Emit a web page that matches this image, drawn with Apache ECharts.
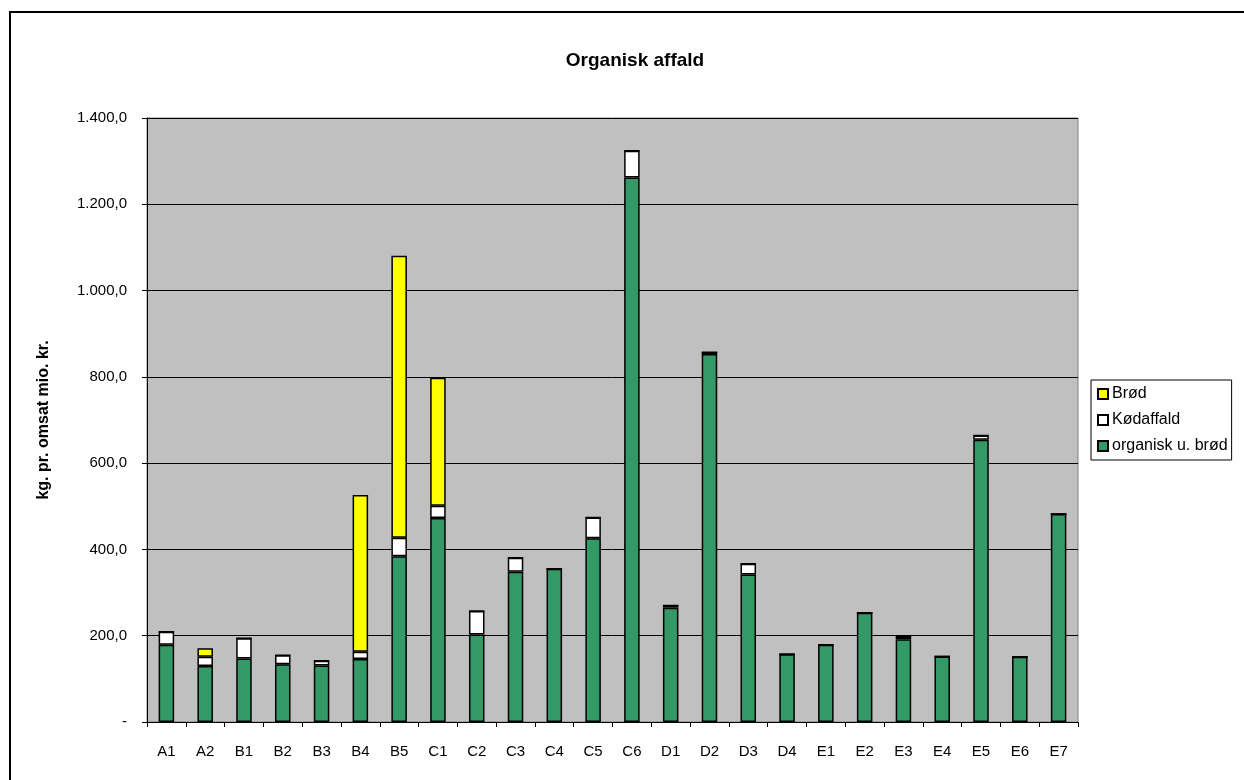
<!DOCTYPE html>
<html>
<head>
<meta charset="utf-8">
<script src="https://cdn.jsdelivr.net/npm/echarts@6/dist/echarts.min.js"></script>
<style>
  html, body { margin: 0; padding: 0; background: #fff; }
  #main { width: 1244px; height: 780px; }
</style>
</head>
<body>
<div id="main"></div>
<script>
var categories = ['A1','A2','B1','B2','B3','B4','B5','C1','C2','C3','C4','C5','C6','D1','D2','D3','D4','E1','E2','E3','E4','E5','E6','E7'];
var organiskUBrod = [179,130,147,134,131,146,384,473,203,348,355,426,1262,265,853,342,157,179,253,192,152,654,151,482];
var kodaffald = [30,21,47,21,11,17,43,28,54,33,0,48,62,5,4,25,0,0,0,6,0,10,0,0];
var brod = [0,20,0,0,0,363,654,297,0,0,0,0,0,0,0,0,0,0,0,0,0,0,0,0];
var yTicks = [0,200,400,600,800,1000,1200,1400];

var chartDom = document.getElementById('main');
var myChart = echarts.init(chartDom);
var option;

var font = "'Liberation Sans', Arial, sans-serif";

// dansk talformat: 1.400,0 og '-' for nul
function fmt(v) {
  if (v === 0) return '-';
  var s = v.toFixed(1).split('.');
  return s[0].replace(/\B(?=(\d{3})+(?!\d))/g, '.') + ',' + s[1];
}

option = {
  animation: false,
  backgroundColor: '#fff',
  textStyle: { fontFamily: font },
  title: {
    text: 'Organisk affald',
    left: 630,
    top: 46,
    textAlign: 'center',
    textStyle: { fontSize: 19, fontWeight: 'bold', color: '#000', fontFamily: font }
  },
  graphic: [{
    type: 'rect',
    shape: { x: 10, y: 12, width: 1300, height: 900 },
    style: { fill: 'none', stroke: '#000', lineWidth: 2 },
    silent: true
  }],
  legend: {
    orient: 'vertical',
    left: 1091,
    top: 380,
    data: ['Brød', 'Kødaffald', 'organisk u. brød'],
    itemWidth: 10,
    itemHeight: 10,
    itemGap: 10,
    padding: [6, 4, 6, 6],
    borderColor: '#000',
    borderWidth: 1,
    backgroundColor: '#fff',
    icon: 'rect',
    textStyle: { fontSize: 16, color: '#000', fontFamily: font, padding: [0, 0, 0, -1] }
  },
  grid: {
    left: 147,
    top: 118,
    right: 166,
    bottom: 58,
    show: true,
    backgroundColor: '#C0C0C0',
    borderColor: '#808080',
    borderWidth: 1
  },
  xAxis: {
    type: 'category',
    data: categories,
    axisLine: { lineStyle: { color: '#000', width: 1 } },
    axisTick: { show: true, length: 5, lineStyle: { color: '#000' } },
    axisLabel: { fontSize: 15, color: '#000', margin: 22, fontFamily: font }
  },
  yAxis: {
    type: 'value',
    min: yTicks[0],
    max: yTicks[yTicks.length - 1],
    interval: 200,
    name: 'kg. pr. omsat mio. kr.',
    nameLocation: 'middle',
    nameGap: 95,
    nameRotate: 90,
    nameTextStyle: { fontSize: 16, fontWeight: 'bold', color: '#000', fontFamily: font },
    axisLine: { show: true, lineStyle: { color: '#000', width: 1 } },
    axisTick: { show: true, length: 5, lineStyle: { color: '#000' } },
    axisLabel: { fontSize: 15, color: '#000', margin: 20, fontFamily: font, formatter: fmt },
    splitLine: { show: true, lineStyle: { color: '#000', width: 1 } }
  },
  series: [
    {
      name: 'organisk u. brød',
      type: 'bar',
      stack: 'total',
      barWidth: '40%',
      itemStyle: { color: '#339966', borderColor: '#000', borderWidth: 1.5 },
      data: organiskUBrod
    },
    {
      name: 'Kødaffald',
      type: 'bar',
      stack: 'total',
      barWidth: '40%',
      itemStyle: { color: '#FFFFFF', borderColor: '#000', borderWidth: 1.5 },
      data: kodaffald
    },
    {
      name: 'Brød',
      type: 'bar',
      stack: 'total',
      barWidth: '40%',
      itemStyle: { color: '#FFFF00', borderColor: '#000', borderWidth: 1.5 },
      data: brod
    }
  ]
};
option && myChart.setOption(option);
</script>
</body>
</html>
